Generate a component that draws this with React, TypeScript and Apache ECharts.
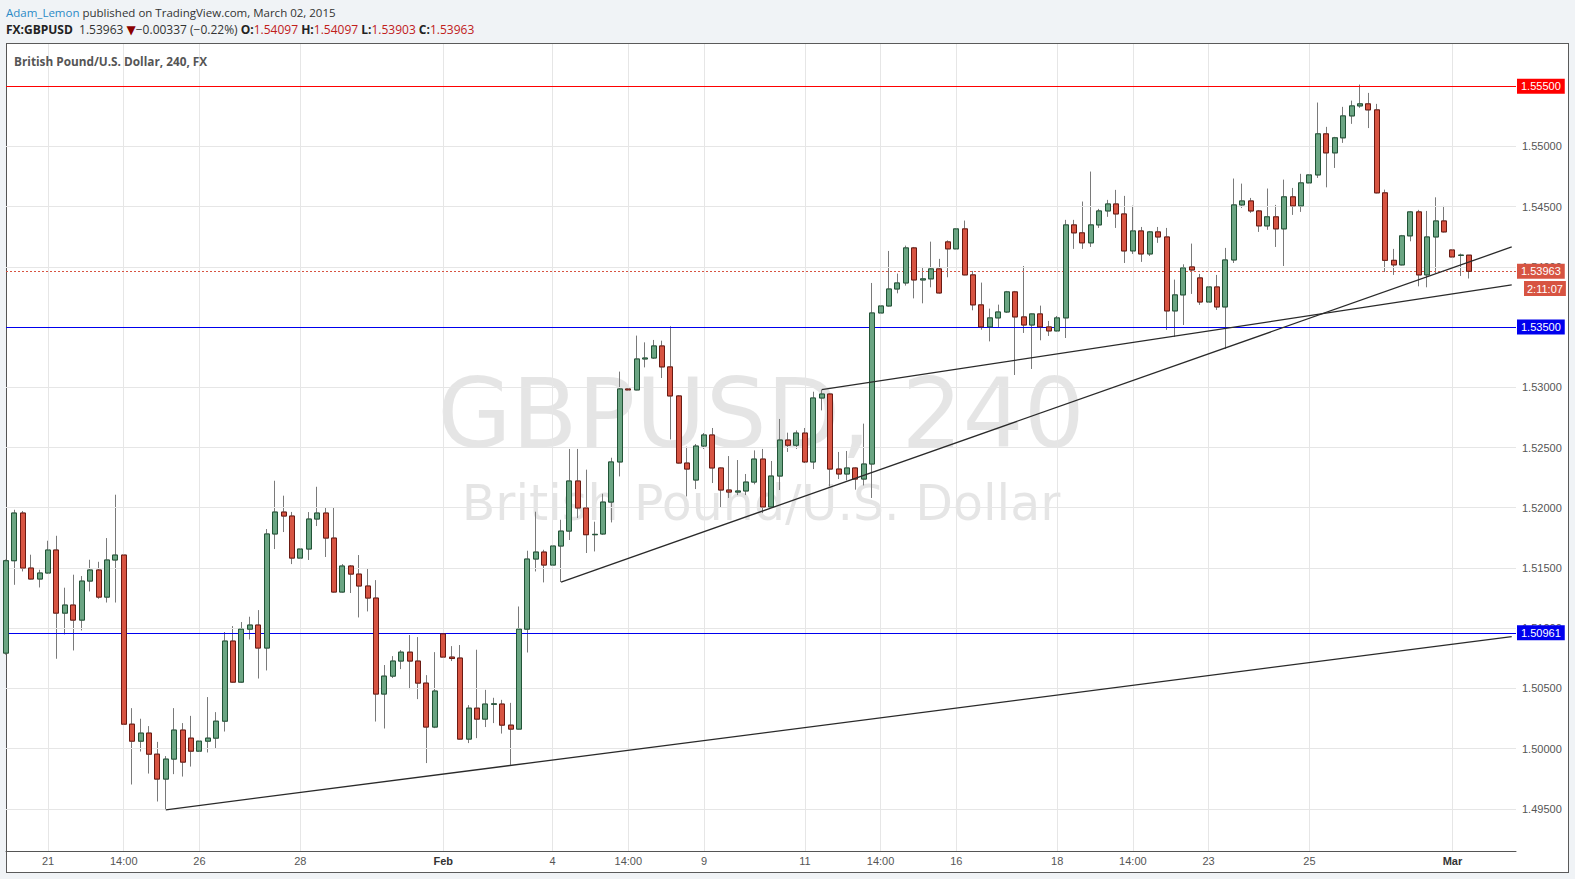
import React, { useEffect, useRef } from 'react';
import * as echarts from 'echarts';

// 4-hour GBP/USD candles, index 0 .. 174
const opens = [
  1.50793, 1.51560, 1.51956, 1.51499, 1.51408, 1.51458, 1.51649, 1.51125, 1.51192, 1.51067,
  1.51391, 1.51483, 1.51258, 1.51566, 1.51607, 1.50203, 1.50062, 1.50129, 1.49954, 1.49747,
  1.49913, 1.50154, 1.50087, 1.49979, 1.50062, 1.50087, 1.50228, 1.50893, 1.50552, 1.50992,
  1.51026, 1.50835, 1.51782, 1.51964, 1.51931, 1.51582, 1.51657, 1.51906, 1.51956, 1.51748,
  1.51300, 1.51516, 1.51449, 1.51350, 1.51250, 1.50453, 1.50602, 1.50727, 1.50801, 1.50727,
  1.50544, 1.50179, 1.50953, 1.50760, 1.50752, 1.50079, 1.50336, 1.50245, 1.50368, 1.50370,
  1.50195, 1.50162, 1.50992, 1.51574, 1.51632, 1.51524, 1.51682, 1.51806, 1.52222, 1.51998,
  1.51776, 1.51782, 1.52047, 1.52380, 1.52986, 1.52978, 1.53235, 1.53243, 1.53343, 1.53169,
  1.52928, 1.52371, 1.52230, 1.52512, 1.52604, 1.52330, 1.52147, 1.52130, 1.52139, 1.52213,
  1.52404, 1.52006, 1.52263, 1.52562, 1.52519, 1.52620, 1.52380, 1.52911, 1.52944, 1.52321,
  1.52280, 1.52330, 1.52238, 1.52363, 1.53617, 1.53675, 1.53816, 1.53866, 1.54157, 1.53891,
  1.53900, 1.53983, 1.54207, 1.54149, 1.54315, 1.53933, 1.53684, 1.53501, 1.53576, 1.53625,
  1.53792, 1.53584, 1.53517, 1.53609, 1.53501, 1.53468, 1.53576, 1.54348, 1.54282, 1.54199,
  1.54348, 1.54464, 1.54522, 1.54439, 1.54132, 1.54298, 1.54107, 1.54290, 1.54248, 1.53634,
  1.53767, 1.53999, 1.53908, 1.53708, 1.53833, 1.53667, 1.54057, 1.54514, 1.54547, 1.54464,
  1.54340, 1.54415, 1.54315, 1.54581, 1.54506, 1.54697, 1.54763, 1.55104, 1.54946, 1.55071,
  1.55253, 1.55336, 1.55353, 1.55303, 1.54614, 1.54054, 1.54016, 1.54257, 1.54456, 1.53933,
  1.54248, 1.54381, 1.54140, 1.54095, 1.54097,
];
const closes = [
  1.51560, 1.51956, 1.51499, 1.51408, 1.51458, 1.51649, 1.51125, 1.51192, 1.51067, 1.51391,
  1.51483, 1.51258, 1.51566, 1.51607, 1.50203, 1.50062, 1.50129, 1.49954, 1.49747, 1.49913,
  1.50154, 1.49888, 1.49979, 1.50062, 1.50087, 1.50228, 1.50893, 1.50552, 1.50992, 1.51026,
  1.50835, 1.51782, 1.51964, 1.51931, 1.51582, 1.51657, 1.51906, 1.51956, 1.51748, 1.51300,
  1.51516, 1.51449, 1.51350, 1.51250, 1.50453, 1.50602, 1.50727, 1.50801, 1.50727, 1.50544,
  1.50179, 1.50478, 1.50760, 1.50748, 1.50079, 1.50336, 1.50245, 1.50370, 1.50372, 1.50195,
  1.50162, 1.50992, 1.51574, 1.51632, 1.51524, 1.51682, 1.51806, 1.52222, 1.51998, 1.51776,
  1.51779, 1.52047, 1.52380, 1.52986, 1.52978, 1.53235, 1.53243, 1.53343, 1.53169, 1.52928,
  1.52371, 1.52321, 1.52512, 1.52604, 1.52330, 1.52147, 1.52130, 1.52139, 1.52213, 1.52404,
  1.52006, 1.52263, 1.52562, 1.52519, 1.52620, 1.52380, 1.52911, 1.52944, 1.52321, 1.52280,
  1.52330, 1.52238, 1.52363, 1.53617, 1.53675, 1.53816, 1.53866, 1.54157, 1.53891, 1.53900,
  1.53983, 1.53783, 1.54149, 1.54315, 1.53933, 1.53684, 1.53501, 1.53576, 1.53625, 1.53792,
  1.53584, 1.53517, 1.53609, 1.53501, 1.53468, 1.53576, 1.54348, 1.54282, 1.54199, 1.54348,
  1.54464, 1.54522, 1.54439, 1.54132, 1.54298, 1.54107, 1.54290, 1.54248, 1.53634, 1.53767,
  1.53991, 1.53974, 1.53708, 1.53833, 1.53667, 1.54057, 1.54514, 1.54547, 1.54464, 1.54340,
  1.54415, 1.54315, 1.54581, 1.54506, 1.54697, 1.54763, 1.55104, 1.54946, 1.55071, 1.55253,
  1.55336, 1.55353, 1.55303, 1.54614, 1.54054, 1.54016, 1.54257, 1.54456, 1.53933, 1.54248,
  1.54381, 1.54290, 1.54082, 1.54097, 1.53963,
];
const highs = [
  1.51570, 1.51983, 1.51973, 1.51610, 1.51485, 1.51726, 1.51767, 1.51336, 1.51444, 1.51433,
  1.51568, 1.51551, 1.51748, 1.52108, 1.51701, 1.50336, 1.50248, 1.50187, 1.50056, 1.49938,
  1.50336, 1.50212, 1.50272, 1.50106, 1.50428, 1.50303, 1.50968, 1.51017, 1.51051, 1.51095,
  1.51150, 1.51823, 1.52224, 1.52100, 1.51965, 1.51707, 1.51964, 1.52174, 1.51998, 1.52006,
  1.51532, 1.51524, 1.51607, 1.51491, 1.51399, 1.50694, 1.50768, 1.50818, 1.50943, 1.50926,
  1.50610, 1.50801, 1.50959, 1.50851, 1.50860, 1.50361, 1.50821, 1.50488, 1.50422, 1.50405,
  1.50380, 1.51180, 1.51643, 1.51967, 1.51651, 1.51748, 1.51900, 1.52488, 1.52488, 1.52316,
  1.51884, 1.52116, 1.52415, 1.53130, 1.53055, 1.53429, 1.53373, 1.53393, 1.53387, 1.53506,
  1.52935, 1.52507, 1.52529, 1.52620, 1.52662, 1.52335, 1.52429, 1.52396, 1.52280, 1.52476,
  1.52488, 1.52388, 1.52737, 1.52623, 1.52642, 1.52662, 1.52963, 1.52978, 1.52950, 1.52463,
  1.52471, 1.52335, 1.52698, 1.53866, 1.53900, 1.54132, 1.53944, 1.54176, 1.54165, 1.53999,
  1.54209, 1.54066, 1.54220, 1.54351, 1.54384, 1.53966, 1.53869, 1.53653, 1.53686, 1.53800,
  1.53800, 1.54007, 1.53612, 1.53678, 1.53551, 1.53592, 1.54390, 1.54390, 1.54542, 1.54791,
  1.54481, 1.54556, 1.54639, 1.54589, 1.54508, 1.54331, 1.54298, 1.54331, 1.54323, 1.53894,
  1.54021, 1.54193, 1.53941, 1.53866, 1.53933, 1.54157, 1.54733, 1.54691, 1.54572, 1.54472,
  1.54650, 1.54514, 1.54724, 1.54655, 1.54772, 1.54780, 1.55364, 1.55162, 1.55079, 1.55328,
  1.55380, 1.55513, 1.55444, 1.55353, 1.54641, 1.54149, 1.54265, 1.54464, 1.54473, 1.54464,
  1.54577, 1.54506, 1.54273, 1.54110, 1.54097,
];
const lows = [
  1.50780, 1.51360, 1.51471, 1.51405, 1.51338, 1.51455, 1.50746, 1.50948, 1.50815, 1.50981,
  1.51305, 1.51244, 1.51213, 1.51213, 1.50137, 1.49702, 1.49976, 1.49793, 1.49561, 1.49492,
  1.49788, 1.49768, 1.49851, 1.49904, 1.49968, 1.50001, 1.50142, 1.50545, 1.50545, 1.50906,
  1.50582, 1.50649, 1.51657, 1.51798, 1.51532, 1.51549, 1.51566, 1.51848, 1.51591, 1.51295,
  1.51295, 1.51292, 1.51089, 1.51139, 1.50225, 1.50167, 1.50586, 1.50660, 1.50494, 1.50411,
  1.49880, 1.50170, 1.50710, 1.50727, 1.50075, 1.50046, 1.50087, 1.50179, 1.50212, 1.50125,
  1.49865, 1.50160, 1.50798, 1.51471, 1.51380, 1.51479, 1.51383, 1.51732, 1.51914, 1.51624,
  1.51637, 1.51775, 1.51878, 1.52260, 1.52820, 1.52975, 1.53165, 1.53235, 1.53077, 1.52567,
  1.52367, 1.52094, 1.52155, 1.52488, 1.52205, 1.51998, 1.52081, 1.52105, 1.52105, 1.52194,
  1.51956, 1.52000, 1.52147, 1.52463, 1.52488, 1.52371, 1.52321, 1.52808, 1.52177, 1.52238,
  1.52227, 1.52150, 1.52185, 1.52081, 1.53423, 1.53670, 1.53780, 1.53844, 1.53738, 1.53697,
  1.53830, 1.53778, 1.53913, 1.54115, 1.53930, 1.53639, 1.53478, 1.53381, 1.53493, 1.53617,
  1.53102, 1.53451, 1.53152, 1.53390, 1.53426, 1.53465, 1.53409, 1.54149, 1.54149, 1.54165,
  1.54323, 1.54415, 1.54323, 1.54032, 1.54107, 1.54041, 1.54090, 1.54199, 1.53476, 1.53418,
  1.53517, 1.53775, 1.53684, 1.53667, 1.53642, 1.53318, 1.54032, 1.54489, 1.54448, 1.54290,
  1.54307, 1.54165, 1.54007, 1.54431, 1.54456, 1.54664, 1.54738, 1.54660, 1.54821, 1.55029,
  1.55187, 1.55320, 1.55152, 1.54610, 1.53958, 1.53933, 1.54012, 1.54212, 1.53838, 1.53830,
  1.53949, 1.54285, 1.54016, 1.53924, 1.53903,
];

// x-axis tick labels: [bar index, text]
const xTickLabels: [number, string][] = [
  [5, '21'], [14, '14:00'], [23, '26'], [35, '28'], [52, 'Feb'], [65, '4'], [74, '14:00'],
  [83, '9'], [95, '11'], [104, '14:00'], [113, '16'], [125, '18'], [134, '14:00'],
  [143, '23'], [155, '25'], [172, 'Mar'],
];
const priceGridLevels = [
  1.495, 1.5, 1.505, 1.51, 1.515, 1.52, 1.525, 1.53, 1.535, 1.54, 1.545, 1.55, 1.555,
];
// horizontal levels drawn by the author
const levelValues = [1.555, 1.535, 1.50961];
const levelTexts = ['1.55500', '1.53500', '1.50961'];
const lastPrice = 1.53963;
const lastPriceText = '1.53963';
const countdownText = '2:11:07';
// trend lines: [[startIndex, startPrice], [endIndex, endPrice]]
const trendLines: [number, number][][] = [
  [[19, 1.49492], [179.05, 1.5093]],
  [[66, 1.51383], [179.05, 1.54165]],
  [[97, 1.5298], [179.05, 1.5385]],
];

const UP = '#6ba583';
const DOWN = '#d75442';
const AXIS_FONT = 'Liberation Sans, Arial, sans-serif';
const HEAD_FONT = 'Open Sans, sans-serif';

export default function App() {
  const ref = useRef<HTMLDivElement>(null);

  useEffect(() => {
    if (!ref.current) return;
    const chart = echarts.init(ref.current, undefined, { renderer: 'svg' });

    const candleData = opens.map((o, i) => [i, o, closes[i], lows[i], highs[i]]);
    const bodyData = opens.map((o, i) => [
      i, o, closes[i], Math.min(o, closes[i]), Math.max(o, closes[i]),
    ]);
    const labelMap = new Map<number, string>(xTickLabels);
    const levelColors = ['#ff0000', '#0000ee', '#0000ee'];

    const tagLabel = (text: string, bg: string) => ({
      show: true,
      position: 'end',
      distance: 1,
      formatter: text,
      color: '#fff',
      backgroundColor: bg,
      padding: [2, 4, 2, 4],
      fontSize: 11,
      fontFamily: AXIS_FONT,
    });

    const option: any = {
      animation: false,
      grid: { left: 6, right: 59, top: 44, bottom: 28, containLabel: false },
      xAxis: {
        type: 'value',
        min: 0,
        max: 179.56,
        interval: 1,
        axisLine: { show: true, onZero: false, lineStyle: { color: '#555', width: 1 } },
        axisTick: { show: false },
        splitLine: { show: false },
        axisLabel: {
          color: '#555',
          fontSize: 11,
          fontFamily: AXIS_FONT,
          margin: 4,
          showMinLabel: true,
          showMaxLabel: true,
          formatter: (v: number) => {
            const r = Math.round(v);
            if (Math.abs(v - r) > 1e-6) return '';
            const t = labelMap.get(r);
            if (!t) return '';
            return t === 'Feb' || t === 'Mar' ? `{b|${t}}` : t;
          },
          rich: { b: { fontWeight: 'bold', color: '#333', fontSize: 11, fontFamily: AXIS_FONT } },
        },
      },
      yAxis: {
        type: 'value',
        position: 'right',
        min: 1.4915,
        max: 1.5585,
        interval: 0.0005,
        axisLine: { show: true, lineStyle: { color: '#555', width: 1 } },
        axisTick: { show: false },
        splitLine: { show: false },
        axisLabel: {
          color: '#555',
          fontSize: 11,
          fontFamily: AXIS_FONT,
          margin: 6,
          formatter: (v: number) => {
            const k = v / 0.005;
            return Math.abs(k - Math.round(k)) < 1e-6 ? v.toFixed(5) : '';
          },
        },
      },
      series: [
        {
          type: 'line',
          z: 1,
          silent: true,
          data: [[0, 1.52]],
          symbol: 'none',
          lineStyle: { opacity: 0 },
          markLine: {
            silent: true,
            animation: false,
            precision: 6,
            symbol: ['none', 'none'],
            label: { show: false },
            lineStyle: { color: '#e6e6e6', width: 1, type: 'solid' },
            data: [
              ...xTickLabels.map(([i]) => ({ xAxis: i })),
              ...priceGridLevels.map((p) => ({ yAxis: p })),
            ],
          },
        },
        {
          type: 'line',
          z: 3,
          silent: true,
          data: [[0, 1.52]],
          symbol: 'none',
          lineStyle: { opacity: 0 },
          markLine: {
            silent: true,
            animation: false,
            precision: 6,
            symbol: ['none', 'none'],
            data: [
              ...levelValues.map((v, k) => ({
                yAxis: v,
                lineStyle: { color: levelColors[k], width: 1, type: 'solid' },
                label: tagLabel(levelTexts[k], levelColors[k]),
              })),
              {
                yAxis: lastPrice,
                lineStyle: { color: DOWN, width: 1, type: [2, 2] },
                label: tagLabel(lastPriceText, DOWN),
              },
            ],
          },
        },
        {
          type: 'candlestick',
          z: 4,
          silent: true,
          barWidth: 5.5,
          data: candleData,
          itemStyle: {
            color: UP,
            color0: DOWN,
            borderColor: '#7a7a7a',
            borderColor0: '#7a7a7a',
            borderWidth: 1,
          },
        },
        {
          type: 'candlestick',
          z: 5,
          silent: true,
          barWidth: 5.5,
          data: bodyData,
          itemStyle: {
            color: UP,
            color0: DOWN,
            borderColor: '#225437',
            borderColor0: '#6b1a12',
            borderWidth: 1,
          },
        },
        ...trendLines.map((pts) => ({
          type: 'line',
          z: 6,
          silent: true,
          data: pts,
          symbol: 'none',
          lineStyle: { color: '#2a2a2a', width: 1.3 },
        })),
      ],
      graphic: [
        {
          type: 'text',
          z: 0,
          silent: true,
          x: 761,
          y: 414,
          style: {
            text: 'GBPUSD, 240',
            fill: 'rgba(0,0,0,0.1)',
            fontSize: 96,
            fontFamily: 'DejaVu Sans, sans-serif',
            align: 'center',
            verticalAlign: 'middle',
          },
        },
        {
          type: 'text',
          z: 0,
          silent: true,
          x: 761,
          y: 503,
          style: {
            text: 'British Pound/U.S. Dollar',
            fill: 'rgba(0,0,0,0.1)',
            fontSize: 49,
            fontFamily: 'DejaVu Sans, sans-serif',
            align: 'center',
            verticalAlign: 'middle',
          },
        },
        {
          type: 'text',
          z: 50,
          x: 6,
          y: 12.5,
          style: {
            text: '{u|Adam_Lemon}{n| published on TradingView.com, March 02, 2015}',
            verticalAlign: 'middle',
            rich: {
              u: { fill: '#2b8ac6', fontSize: 11.5, fontFamily: HEAD_FONT },
              n: { fill: '#333', fontSize: 11.5, fontFamily: HEAD_FONT },
            },
          },
        },
        {
          type: 'text',
          z: 50,
          x: 6,
          y: 29.5,
          style: {
            text:
              '{b|FX:GBPUSD}{n|  1.53963 }{t|▼}{n|−0.00337 (−0.22%) }{b|O:}{r|1.54097 }{b|H:}{r|1.54097 }{b|L:}{r|1.53903 }{b|C:}{r|1.53963}',
            verticalAlign: 'middle',
            rich: {
              b: { fill: '#222', fontSize: 12, fontWeight: 'bold', fontFamily: HEAD_FONT },
              n: { fill: '#333', fontSize: 12, fontFamily: HEAD_FONT },
              t: { fill: '#8b0000', fontSize: 12, fontFamily: 'DejaVu Sans, sans-serif' },
              r: { fill: '#c0201b', fontSize: 12, fontFamily: HEAD_FONT },
            },
          },
        },
        {
          type: 'text',
          z: 50,
          x: 14,
          y: 60.5,
          style: {
            text: 'British Pound/U.S. Dollar, 240, FX',
            fill: '#555',
            fontSize: 11.8,
            fontWeight: 'bold',
            fontFamily: HEAD_FONT,
            verticalAlign: 'middle',
          },
        },
        {
          type: 'text',
          z: 100,
          x: 1524,
          y: 288.5,
          style: {
            text: countdownText,
            fill: '#fff',
            backgroundColor: DOWN,
            padding: [2, 3, 2, 3],
            fontSize: 11,
            fontFamily: AXIS_FONT,
            verticalAlign: 'middle',
          },
        },
      ],
    };

    chart.setOption(option);
    return () => chart.dispose();
  }, []);

  return (
    <div
      style={{
        position: 'fixed',
        left: 0,
        top: 0,
        width: 1575,
        height: 879,
        background: '#f0f3f6',
      }}
    >
      <div
        style={{
          position: 'absolute',
          left: 6,
          top: 43,
          width: 1563,
          height: 830,
          boxSizing: 'border-box',
          background: '#fff',
          border: '1px solid #5a5a5a',
        }}
      />
      <div
        ref={ref}
        style={{ position: 'absolute', left: 0, top: 0, width: 1575, height: 879 }}
      />
    </div>
  );
}
